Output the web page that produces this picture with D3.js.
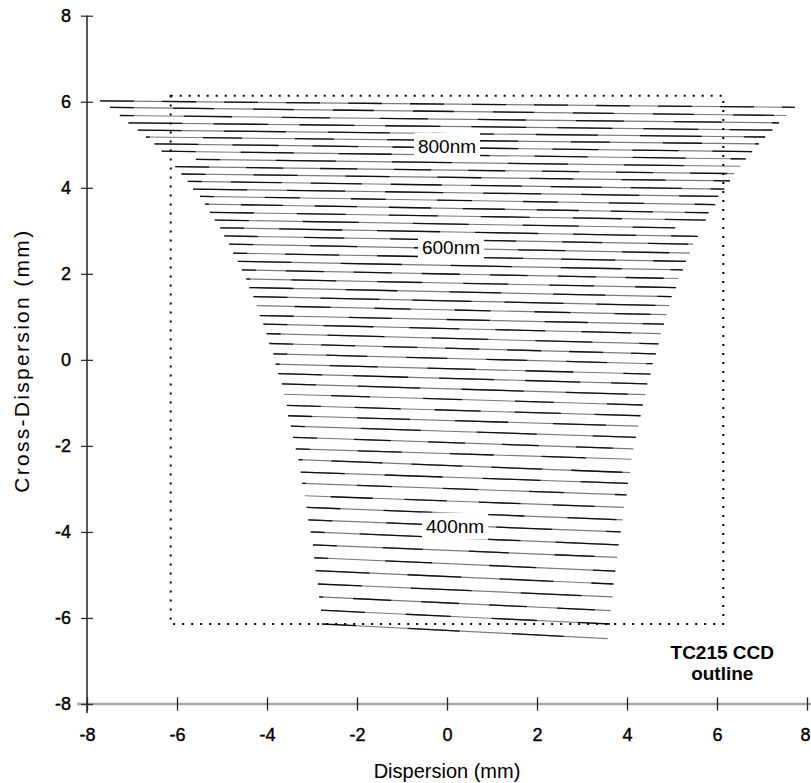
<!DOCTYPE html>
<html>
<head>
<meta charset="UTF-8">
<script src="https://cdn.jsdelivr.net/npm/d3@7"></script>
<title>Echelle format</title>
<style>
    body { margin: 0; background: #fff; }
    text { font-family: "Liberation Sans", Arial, Helvetica, sans-serif; fill: #000; }
</style>
</head>
<body>
<div id="chart"></div>
<script>
// order traces (mm): left end and right end of each order
const xLeft = [-7.71, -7.49, -7.27, -7.08, -6.87, -6.69, -6.50, -6.34, -5.58, -6.04,
    -5.90, -5.76, -5.64, -5.49, -5.38, -5.27, -5.16, -5.04, -4.95, -4.84,
    -4.75, -4.65, -4.56, -4.46, -4.39, -4.30, -4.23, -4.16, -4.08, -4.01,
    -3.95, -3.86, -3.81, -3.75, -3.67, -3.62, -3.56, -3.53, -3.47, -3.42,
    -3.36, -3.30, -3.25, -3.22, -3.16, -3.12, -3.08, -3.03, -2.98, -2.95,
    -2.92, -2.87, -2.84, -2.80, -2.78];
const yLeft = [6.02, 5.87, 5.68, 5.51, 5.34, 5.18, 5.02, 4.85, 4.66, 4.49,
    4.32, 4.15, 3.97, 3.80, 3.62, 3.43, 3.25, 3.07, 2.88, 2.69,
    2.48, 2.29, 2.09, 1.88, 1.68, 1.47, 1.26, 1.03, 0.83, 0.61,
    0.38, 0.14, -0.10, -0.32, -0.56, -0.80, -1.06, -1.30, -1.54, -1.80,
    -2.07, -2.32, -2.61, -2.87, -3.16, -3.43, -3.72, -4.00, -4.30, -4.60,
    -4.90, -5.21, -5.51, -5.82, -6.14];
const xRight = [7.73, 7.55, 7.38, 7.23, 7.07, 6.93, 6.78, 6.64, 6.51, 6.38,
    6.29, 6.16, 6.03, 5.96, 5.81, 5.75, 5.07, 5.57, 5.47, 5.40,
    5.31, 5.24, 5.14, 5.09, 4.99, 4.94, 4.88, 4.82, 4.75, 4.70,
    4.64, 4.57, 4.52, 4.45, 4.40, 4.35, 4.30, 4.25, 4.20, 4.14,
    4.10, 4.07, 4.02, 3.99, 3.93, 3.90, 3.86, 3.82, 3.78, 3.74,
    3.70, 3.68, 3.64, 3.62, 3.57];
const yRight = [5.87, 5.68, 5.51, 5.34, 5.18, 5.02, 4.84, 4.67, 4.50, 4.33,
    4.16, 3.97, 3.80, 3.61, 3.42, 3.25, 3.07, 2.87, 2.69, 2.48,
    2.29, 2.09, 1.89, 1.68, 1.47, 1.26, 1.05, 0.83, 0.61, 0.37,
    0.14, -0.09, -0.33, -0.56, -0.81, -1.05, -1.30, -1.54, -1.80, -2.07,
    -2.31, -2.62, -2.87, -3.14, -3.43, -3.72, -4.00, -4.30, -4.59, -4.91,
    -5.21, -5.51, -5.83, -6.14, -6.48];

const xTicks = [-8, -6, -4, -2, 0, 2, 4, 6, 8];
const yTicks = [-8, -6, -4, -2, 0, 2, 4, 6, 8];

// CCD outline half-size (mm)
const ccdHalf = 6.14;

// wavelength labels
const labelText = ["800nm", "600nm", "400nm"];
const labelX = [0.0, 0.09, 0.18];
const labelY = [4.97, 2.62, -3.86];

const width = 811, height = 783;
const margin = {top: 15.7, right: 4, bottom: 79, left: 87};

const svg = d3.select("#chart").append("svg")
    .attr("width", width)
    .attr("height", height);

const x = d3.scaleLinear().domain([-8, 8]).range([margin.left, width - margin.right]);
const y = d3.scaleLinear().domain([-8, 8]).range([height - margin.bottom, margin.top]);

const orders = xLeft.map((d, i) => ({i: i, x0: d, y0: yLeft[i], x1: xRight[i], y1: yRight[i]}));

// hyphen rather than unicode minus, like the original
const fmt = d => String(d);

// x axis (gray line, ticks crossing it)
svg.append("line")
    .attr("x1", x(-8) - 10).attr("x2", width)
    .attr("y1", y(-8)).attr("y2", y(-8))
    .attr("stroke", "#a8a8a8").attr("stroke-width", 2.4);

const xAxis = svg.append("g")
    .attr("transform", `translate(0,${y(-8)})`)
    .call(d3.axisBottom(x).tickValues(xTicks).tickFormat(fmt).tickSize(6.5).tickPadding(17.5));
xAxis.select(".domain").remove();
xAxis.selectAll(".tick line").attr("y1", -6.5).attr("stroke", "#222").attr("stroke-width", 1.3);
xAxis.selectAll(".tick text")
    .style("font-size", "18px")
    .attr("fill", "#000").attr("stroke", "#000").attr("stroke-width", 0.4)
    .attr("dx", d => d === 8 ? -2 : 0);

// y axis
const yAxis = svg.append("g")
    .attr("transform", `translate(${x(-8)},0)`)
    .call(d3.axisLeft(y).tickValues(yTicks).tickFormat(fmt).tickSize(6).tickPadding(10));
yAxis.select(".domain").remove();
yAxis.selectAll(".tick line").attr("x1", 6).attr("stroke", "#333").attr("stroke-width", 1.3);
yAxis.selectAll(".tick text")
    .style("font-size", "18px")
    .attr("fill", "#000").attr("stroke", "#000").attr("stroke-width", 0.4);

svg.append("line")
    .attr("x1", x(-8)).attr("x2", x(-8))
    .attr("y1", y(8)).attr("y2", y(-8) + 9)
    .attr("stroke", "#222").attr("stroke-width", 1.5);

// echelle orders: gray base with darker broken segments on top
const ordersG = svg.append("g");
ordersG.selectAll("line.base")
    .data(orders)
    .enter()
    .append("line")
    .attr("class", "base")
    .attr("x1", d => x(d.x0)).attr("y1", d => y(d.y0))
    .attr("x2", d => x(d.x1)).attr("y2", d => y(d.y1))
    .attr("stroke", "#7a7a7a")
    .attr("stroke-width", 1.15);
ordersG.selectAll("line.dark")
    .data(orders)
    .enter()
    .append("line")
    .attr("class", "dark")
    .attr("x1", d => x(d.x0)).attr("y1", d => y(d.y0))
    .attr("x2", d => x(d.x1)).attr("y2", d => y(d.y1))
    .attr("stroke", "#111")
    .attr("stroke-width", 1.3)
    .attr("stroke-dasharray", d => `${34 + (d.i * 7) % 30},${28 + (d.i * 11) % 30}`)
    .attr("stroke-dashoffset", d => (d.i * 17) % 50);

// CCD outline
svg.append("rect")
    .attr("x", x(-ccdHalf)).attr("y", y(ccdHalf))
    .attr("width", x(ccdHalf) - x(-ccdHalf))
    .attr("height", y(-ccdHalf) - y(ccdHalf))
    .attr("fill", "none")
    .attr("stroke", "#000")
    .attr("stroke-width", 2)
    .attr("stroke-dasharray", "2,7");

// wavelength labels on white boxes
labelText.forEach((t, i) => {
    const g = svg.append("g");
    const txt = g.append("text")
        .attr("x", x(labelX[i]))
        .attr("y", y(labelY[i]))
        .attr("dy", "0.36em")
        .attr("text-anchor", "middle")
        .style("font-size", "19px")
        .text(t);
    const b = txt.node().getBBox();
    g.insert("rect", "text")
        .attr("x", b.x - 4).attr("y", b.y - 3)
        .attr("width", b.width + 8).attr("height", b.height + 6)
        .attr("fill", "#fff");
});

// CCD caption
svg.append("text")
    .attr("x", x(ccdHalf) - 1).attr("y", 659)
    .attr("text-anchor", "middle")
    .style("font-size", "19px").style("font-weight", "bold")
    .text("TC215 CCD");
svg.append("text")
    .attr("x", x(ccdHalf) - 1).attr("y", 680)
    .attr("text-anchor", "middle")
    .style("font-size", "19px").style("font-weight", "bold")
    .text("outline");

// axis titles
svg.append("text")
    .attr("x", x(0)).attr("y", 778)
    .attr("text-anchor", "middle")
    .style("font-size", "20px")
    .text("Dispersion (mm)");
svg.append("text")
    .attr("transform", `translate(29,${y(0) + 2}) rotate(-90)`)
    .attr("text-anchor", "middle")
    .attr("textLength", 262)
    .attr("lengthAdjust", "spacing")
    .style("font-size", "21px")
    .text("Cross-Dispersion (mm)");
</script>
</body>
</html>
